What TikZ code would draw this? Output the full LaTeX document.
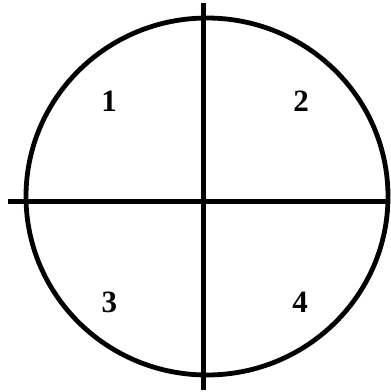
\documentclass[tikz,border=0pt]{standalone}
\usepackage{fontspec}
\setmainfont{Liberation Serif}
\begin{document}
\begin{tikzpicture}[x=1pt,y=-1pt,
  axis/.style={line width=5pt},
  rim/.style={line width=4.8pt},
  lbl/.style={font=\fontsize{31}{34}\selectfont\bfseries, inner sep=0pt}]
\useasboundingbox (0,0) rectangle (391,392);
\coordinate (c) at (207,196.5);
\draw[rim] (c) ellipse [x radius=181, y radius=178.5];
\coordinate (top) at (203,3);
\coordinate (bot) at (203,390);
\coordinate (lft) at (8,201);
\coordinate (rgt) at (389,201);
\draw[axis] (top) -- (bot);
\draw[axis] (lft) -- (rgt);
\node[lbl] (q1) at (109,101) {1};
\node[lbl] (q2) at (301,101) {2};
\node[lbl] (q3) at (109.5,302) {3};
\node[lbl] (q4) at (300,302) {4};
\end{tikzpicture}
\end{document}
